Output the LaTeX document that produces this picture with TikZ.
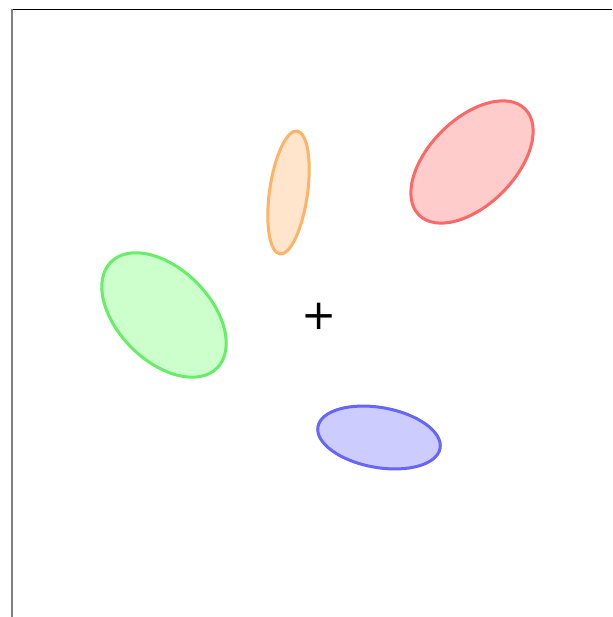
\documentclass[tikz,border=0pt]{standalone}
\usepackage{fontspec}
\usepackage{xcolor}
\usepackage{tikz}
\usetikzlibrary{positioning}
\newfontfamily\plusfont{DejaVu Sans}
\definecolor{redline}{HTML}{FF6666}
\definecolor{redfill}{HTML}{FFCCCC}
\definecolor{orangeline}{HTML}{FFB366}
\definecolor{orangefill}{HTML}{FFE5CC}
\definecolor{greenline}{HTML}{66EE66}
\definecolor{greenfill}{HTML}{CCFFCC}
\definecolor{blueline}{HTML}{6666FF}
\definecolor{bluefill}{HTML}{CCCCFF}
\tikzset{
  blob/.style={line width=3pt},
  redblob/.style={blob,draw=redline,fill=redfill},
  orangeblob/.style={blob,draw=orangeline,fill=orangefill},
  greenblob/.style={blob,draw=greenline,fill=greenfill},
  blueblob/.style={blob,draw=blueline,fill=bluefill}
}

\begin{document}
\begin{tikzpicture}[x=1pt,y=-1pt]
  \useasboundingbox (0,0) rectangle (612,617);
  % frame
  \draw[black,line width=1.3pt] (11,9.5) -- (612,9.5);
  \draw[gray,line width=2pt] (11.5,9) -- (11.5,617);
  % blobs
  \draw[redblob,rotate around={45:(472,162)}] (472,162) ellipse [x radius=75, y radius=43];
  \draw[orangeblob,rotate around={82:(288.5,192.5)}] (288.5,192.5) ellipse [x radius=62, y radius=19];
  \draw[greenblob,rotate around={-45:(164,315)}] (164,315) ellipse [x radius=75, y radius=46];
  \draw[blueblob,rotate around={-10:(379,437.5)}] (379,437.5) ellipse [x radius=62, y radius=30];
  % centre mark
  \node[inner sep=0pt,font=\plusfont\fontsize{42}{42}\selectfont] (centre) at (319,316) {+};
\end{tikzpicture}
\end{document}
